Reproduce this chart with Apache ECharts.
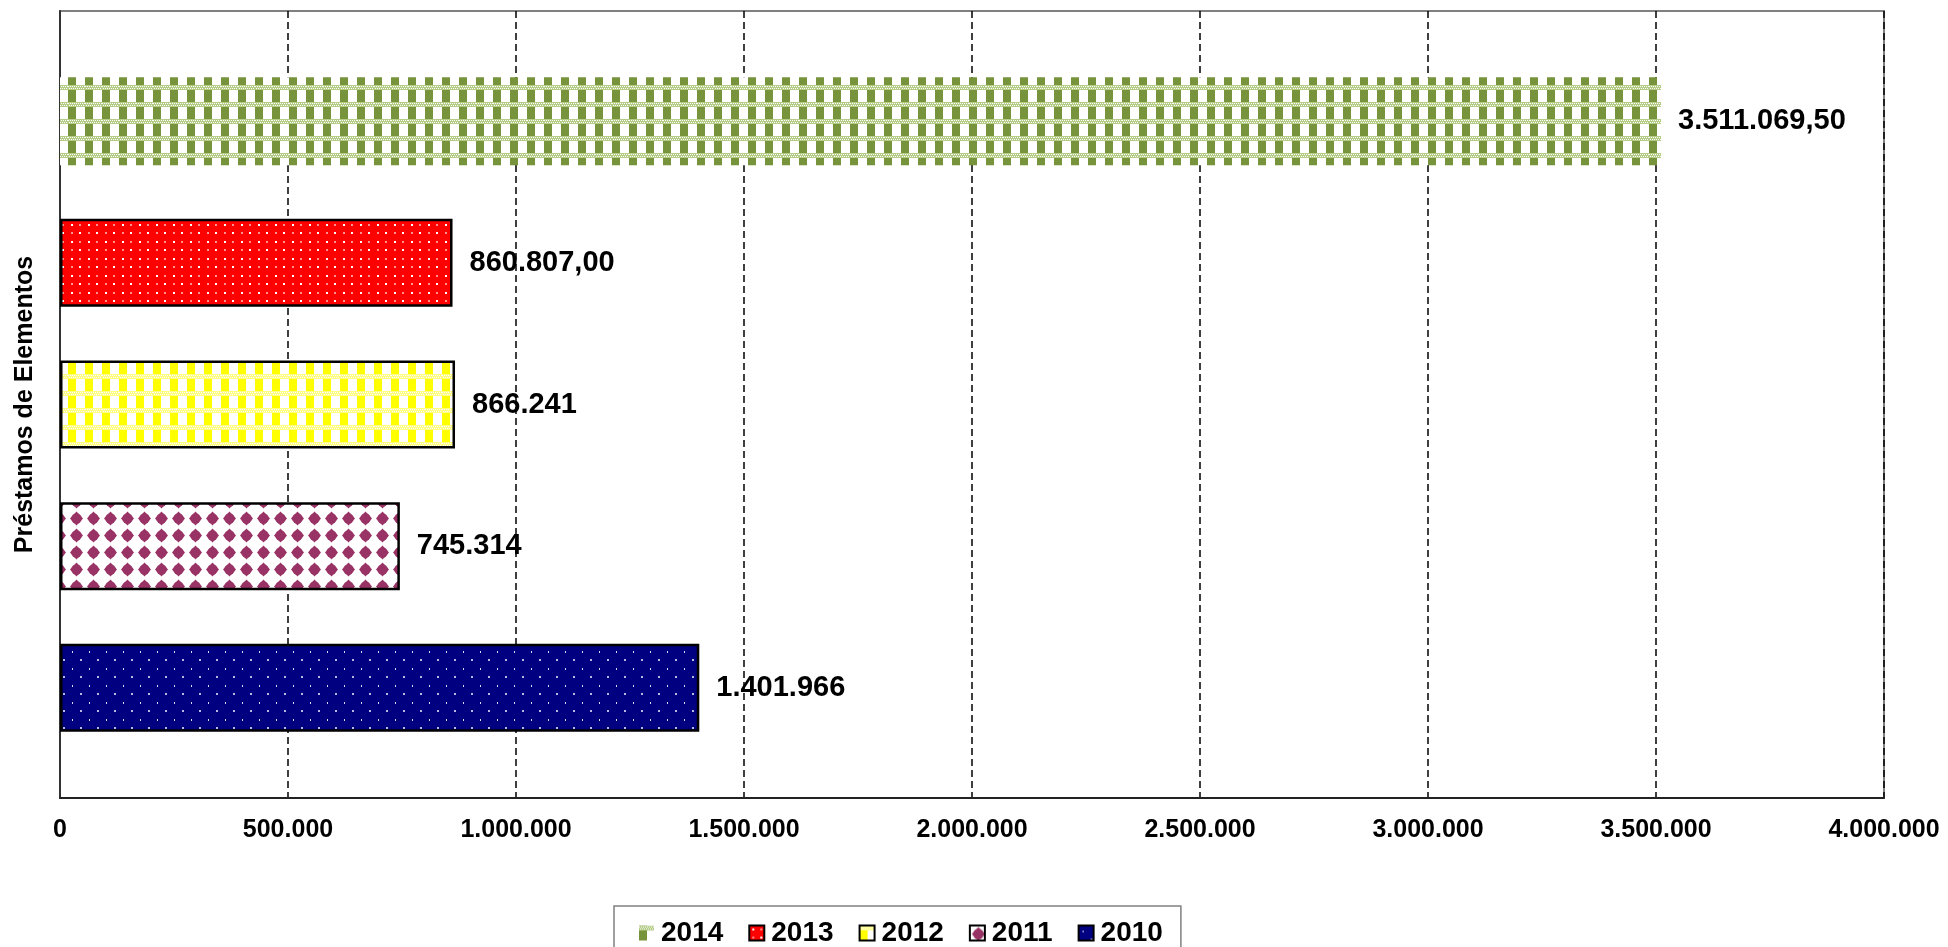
<!DOCTYPE html>
<html>
<head>
<meta charset="utf-8">
<title>Préstamos de Elementos</title>
<script src="https://cdn.jsdelivr.net/npm/echarts@6/dist/echarts.min.js"></script>
<style>
  html, body { margin: 0; padding: 0; background: #fff; }
  #chart { width: 1948px; height: 947px; }
</style>
</head>
<body>
<div id="chart"></div>
<script>
// datos (de arriba hacia abajo)
var years = ['2014', '2013', '2012', '2011', '2010'];
var values = [3511069.5, 860807, 866241, 745314, 1401966];
var labels = ['3.511.069,50', '860.807,00', '866.241', '745.314', '1.401.966'];
var legendOrder = ['2014', '2013', '2012', '2011', '2010'];
var tickValues = [0, 500000, 1000000, 1500000, 2000000, 2500000, 3000000, 3500000, 4000000];
var axisName = 'Préstamos de Elementos';

var FONT = '"Liberation Sans", Arial, sans-serif';

function tile(w, h, draw) {
    var c = document.createElement('canvas');
    c.width = w; c.height = h;
    draw(c.getContext('2d'));
    return { image: c, repeat: 'repeat' };
}

// cuadros tipo "gingham" (2014 verde, 2012 amarillo)
function gingham(dark, light, band) {
    return tile(17, 17, function (g) {
        g.fillStyle = '#fff';
        g.fillRect(0, 0, 17, 17);
        g.fillStyle = dark;
        g.fillRect(0, 0, 8, 17);
        g.fillStyle = band;
        g.fillRect(0, 0, 17, 5);
        g.fillStyle = light;
        for (var x = 0; x < 17; x += 2) {
            g.fillRect(x, 1, 1, 1);
            g.fillRect(x + 1, 3, 1, 1);
        }
    });
}

var patterns = {
    '2014': gingham('#77933C', '#ffffff', '#b5cc86'),
    '2012': gingham('#FFFF00', '#ffffff', '#ffff80'),
    '2013': tile(17, 17, function (g) {
        g.fillStyle = '#FF0000';
        g.fillRect(0, 0, 17, 17);
        g.fillStyle = '#ffffff';
        g.fillRect(3, 3, 2, 2);
        g.fillRect(11, 11, 2, 2);
        g.fillStyle = '#ff9090';
        g.fillRect(11, 3, 2, 2);
        g.fillRect(3, 11, 2, 2);
    }),
    '2011': tile(17, 17, function (g) {
        g.fillStyle = '#fff';
        g.fillRect(0, 0, 17, 17);
        g.fillStyle = '#993366';
        g.beginPath();
        g.moveTo(8.5, 1.5);
        g.lineTo(15, 8.5);
        g.lineTo(8.5, 15.5);
        g.lineTo(2, 8.5);
        g.closePath();
        g.fill();
        g.beginPath();
        g.arc(8.5, 8.5, 5.2, 0, Math.PI * 2);
        g.fill();
    }),
    '2010': tile(17, 17, function (g) {
        g.fillStyle = '#000080';
        g.fillRect(0, 0, 17, 17);
        g.fillStyle = '#d8d8f0';
        g.fillRect(4, 5, 1, 2);
        g.fillStyle = '#b8b8e0';
        g.fillRect(12, 13, 2, 2);
    })
};

function thousands(v) {
    return String(v).replace(/\B(?=(\d{3})+(?!\d))/g, '.');
}

var chart = echarts.init(document.getElementById('chart'), null, { renderer: 'canvas' });

var series = years.map(function (y, i) {
    return {
        name: y,
        type: 'bar',
        barWidth: 88,
        barGap: '61%',
        data: [values[i]],
        itemStyle: {
            color: patterns[y],
            borderColor: y === '2014' ? 'rgba(0,0,0,0)' : '#000',
            borderWidth: y === '2014' ? 0 : 2.5
        },
        label: {
            show: true,
            position: 'right',
            distance: 17,
            formatter: function () { return labels[i]; },
            color: '#000',
            fontFamily: FONT,
            fontWeight: 'bold',
            fontSize: 29
        },
        emphasis: { disabled: true }
    };
});

var option = {
    animation: false,
    backgroundColor: '#fff',
    grid: {
        left: 60, right: 64, top: 11, bottom: 149,
        show: true,
        borderColor: '#808080',
        borderWidth: 2
    },
    legend: {
        data: legendOrder,
        icon: 'rect',
        left: 614,
        top: 906,
        padding: [13, 18, 20, 25],
        itemWidth: 15,
        itemHeight: 15,
        itemGap: 25,
        borderColor: '#808080',
        borderWidth: 1.5,
        selectedMode: false,
        textStyle: { color: '#000', fontFamily: FONT, fontWeight: 'bold', fontSize: 28, padding: [0, 0, 0, 2] }
    },
    xAxis: {
        type: 'value',
        min: 0,
        max: 4000000,
        interval: 500000,
        axisLine: { show: true, lineStyle: { color: '#222', width: 2 } },
        axisTick: { show: false },
        axisLabel: {
            margin: 20,
            color: '#000',
            fontFamily: FONT,
            fontWeight: 'bold',
            fontSize: 25,
            formatter: function (v) {
                return tickValues.indexOf(v) >= 0 ? thousands(v) : '';
            }
        },
        splitLine: { show: true, lineStyle: { color: '#000', width: 1.5, type: [7, 4] } }
    },
    yAxis: {
        type: 'category',
        data: [axisName],
        inverse: false,
        name: axisName,
        nameLocation: 'middle',
        nameGap: 22,
        nameRotate: 90,
        nameTextStyle: { color: '#000', fontFamily: FONT, fontWeight: 'bold', fontSize: 25 },
        axisLine: { show: true, lineStyle: { color: '#333', width: 2 } },
        axisTick: { show: false },
        axisLabel: { show: false },
        splitLine: { show: false }
    },
    series: series
};

chart.setOption(option);
</script>
</body>
</html>
